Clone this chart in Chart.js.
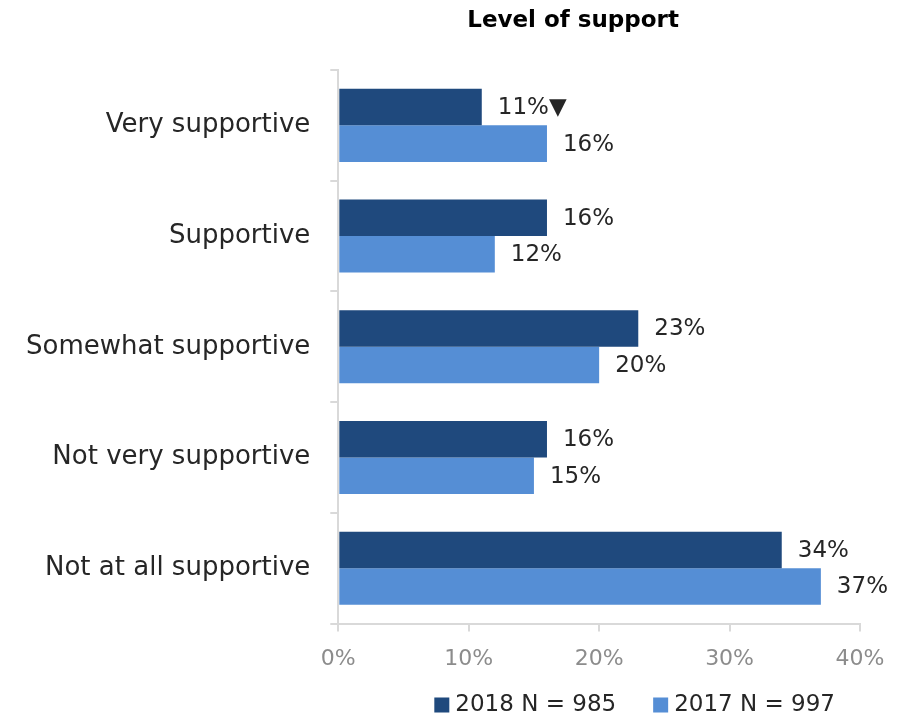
<!DOCTYPE html>
<html>
<head>
<meta charset="utf-8">
<script src="https://cdn.jsdelivr.net/npm/chart.js@4"></script>
<style>
  html, body { margin: 0; padding: 0; background: #ffffff; }
  canvas { display: block; }
</style>
</head>
<body>
<canvas id="chart" width="903" height="718"></canvas>
<script>
// Level of support, 2018 vs 2017 (percent of respondents)
const categories = ['Very supportive', 'Supportive', 'Somewhat supportive', 'Not very supportive', 'Not at all supportive'];
const values2018 = [11, 16, 23, 16, 34];
const values2017 = [16, 12, 20, 15, 37];
// significance marker shown after a 2018 value (▼ = significantly lower than 2017)
const marks2018 = ['▼', '', '', '', ''];
const marks2017 = ['', '', '', '', ''];
const seriesNames = ['2018 N = 985', '2017 N = 997'];
const xTicks = [0, 10, 20, 30, 40];

const FONT = "'DejaVu Sans', sans-serif";
const TEXT = '#262626';

// Writes the value label just past the end of each bar
const barLabels = {
  id: 'barLabels',
  afterDatasetsDraw(chart) {
    const ctx = chart.ctx;
    const marks = [marks2018, marks2017];
    ctx.save();
    ctx.font = '23px ' + FONT;
    ctx.fillStyle = TEXT;
    ctx.textAlign = 'left';
    ctx.textBaseline = 'middle';
    chart.data.datasets.forEach((ds, di) => {
      const meta = chart.getDatasetMeta(di);
      meta.data.forEach((bar, i) => {
        const text = ds.data[i] + '%' + marks[di][i];
        ctx.fillText(text, bar.x + 16, bar.y + 1);
      });
    });
    ctx.restore();
  }
};

// Chart heading, set over the plot
const heading = {
  id: 'heading',
  afterDraw(chart) {
    const a = chart.chartArea;
    const ctx = chart.ctx;
    ctx.save();
    ctx.font = 'bold 23px ' + FONT;
    ctx.fillStyle = '#000000';
    ctx.textAlign = 'center';
    ctx.textBaseline = 'middle';
    ctx.fillText('Level of support', a.left + (a.right - a.left) * 0.45, 21);
    ctx.restore();
  }
};

// Series key along the bottom, under the right part of the plot
const seriesKey = {
  id: 'seriesKey',
  afterDraw(chart) {
    const a = chart.chartArea;
    const ctx = chart.ctx;
    const box = 15, textGap = 6, itemGap = 37;
    ctx.save();
    ctx.font = '23px ' + FONT;
    ctx.textBaseline = 'middle';
    ctx.textAlign = 'left';
    const items = chart.data.datasets.map(ds => ({
      label: ds.label, color: ds.backgroundColor, w: ctx.measureText(ds.label).width
    }));
    const total = items.reduce((s, it) => s + box + textGap + it.w, 0) + itemGap * (items.length - 1);
    let x = a.right - 25 - total;
    const y = chart.height - 14;
    items.forEach(it => {
      ctx.fillStyle = it.color;
      ctx.fillRect(x, y - box / 2 + 1, box, box);
      ctx.fillStyle = TEXT;
      ctx.fillText(it.label, x + box + textGap, y + 1);
      x += box + textGap + it.w + itemGap;
    });
    ctx.restore();
  }
};

new Chart(document.getElementById('chart'), {
  type: 'bar',
  data: {
    labels: categories,
    datasets: [
      { label: seriesNames[0], data: values2018, backgroundColor: '#1f497d', borderWidth: 0 },
      { label: seriesNames[1], data: values2017, backgroundColor: '#558ed5', borderWidth: 0 }
    ]
  },
  options: {
    indexAxis: 'y',
    responsive: false,
    animation: false,
    devicePixelRatio: 1,
    layout: { padding: { top: 70, right: 43, left: 6, bottom: 32 } },
    datasets: { bar: { barPercentage: 1.0, categoryPercentage: 0.66 } },
    scales: {
      x: {
        min: 0,
        max: 40,
        afterBuildTicks(scale) { scale.ticks = xTicks.map(v => ({ value: v })); },
        grid: { drawOnChartArea: false, drawTicks: true, tickLength: 8, color: '#d9d9d9', lineWidth: 2 },
        border: { display: true, color: '#d9d9d9', width: 2 },
        ticks: {
          color: '#8c8c8c',
          font: { family: FONT, size: 22 },
          padding: 14,
          callback: v => v + '%'
        }
      },
      y: {
        grid: { drawOnChartArea: false, offset: true, tickLength: 8, color: '#d9d9d9', lineWidth: 2 },
        border: { display: true, color: '#d9d9d9', width: 2 },
        ticks: {
          color: TEXT,
          font: { family: FONT, size: 26 },
          padding: 20
        }
      }
    },
    plugins: {
      legend: { display: false },
      tooltip: { enabled: false },
      title: { display: false }
    }
  },
  plugins: [barLabels, heading, seriesKey]
});
</script>
</body>
</html>
